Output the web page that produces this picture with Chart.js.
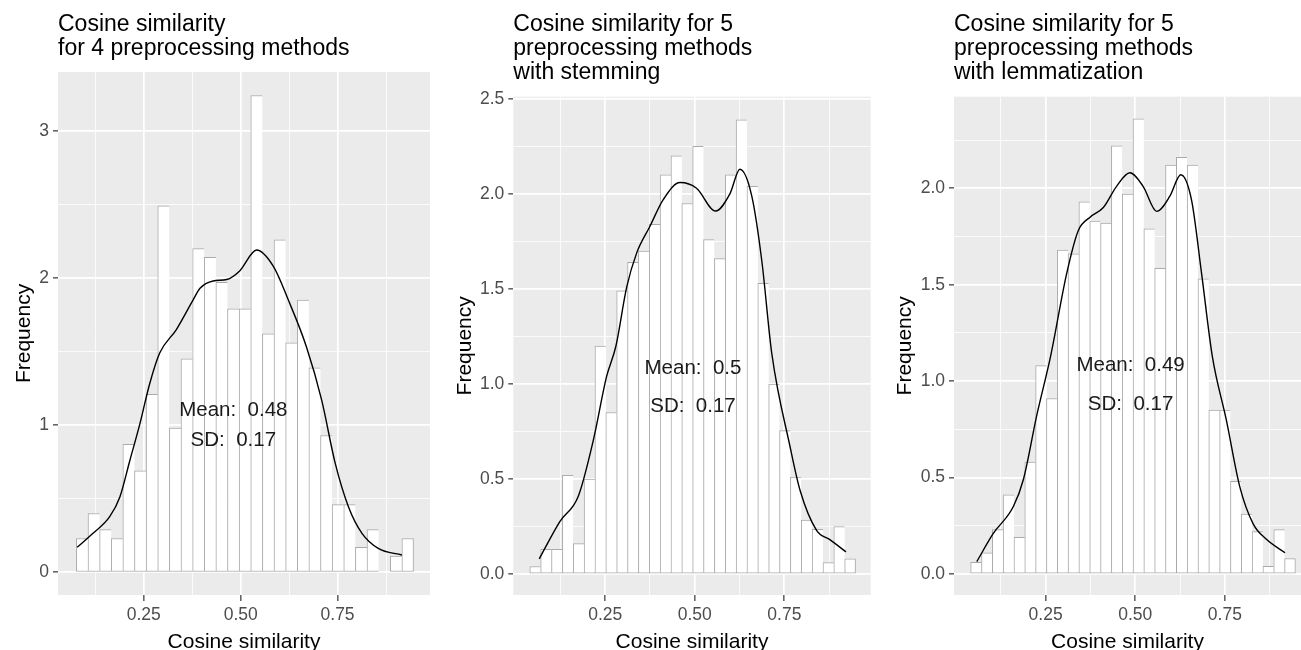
<!DOCTYPE html>
<html>
<head>
<meta charset="utf-8">
<script src="https://cdn.jsdelivr.net/npm/chart.js@4.4.1/dist/chart.umd.min.js"></script>
<style>
  html, body { margin: 0; padding: 0; background: #ffffff; }
  #wrap { position: relative; width: 1301px; height: 650px; overflow: hidden; }
  canvas { position: absolute; top: 0; }
</style>
</head>
<body>
<div id="wrap">
  <canvas id="c1" width="440" height="650" style="left:0px"></canvas>
  <canvas id="c2" width="440" height="650" style="left:440px"></canvas>
  <canvas id="c3" width="421" height="650" style="left:880px"></canvas>
</div>
<script>
// ---- data ----

// histogram bins: start of first bin, bin width, bar heights (density)
const binStart1 = 0.076;
const binWidth1 = 0.0300;
const hist1 = [0.23, 0.40, 0.29, 0.23, 0.87, 0.69, 1.21, 2.49, 0.98, 1.45, 2.20, 2.14, 1.97, 1.79, 1.79,
  3.24, 1.62, 2.26, 1.56, 1.85, 1.39, 0.93, 0.46, 0.46, 0.17, 0.29, 0, 0.11, 0.23];

const binStart2 = 0.0397;
const binWidth2 = 0.0303;
const hist2 = [0.04, 0.13, 0.13, 0.52, 0.16, 0.50, 1.20, 0.85, 1.49, 1.64, 1.70, 1.84, 2.10, 2.20, 1.95,
  2.25, 1.76, 1.66, 2.10, 2.39, 2.04, 1.53, 1.00, 0.755, 0.51, 0.284, 0.235, 0.06, 0.25, 0.08];

const binStart3 = 0.0409;
const binWidth3 = 0.0302;
const hist3 = [0.06, 0.11, 0.23, 0.41, 0.19, 0.58, 1.08, 0.91, 1.68, 1.66, 1.93, 1.83, 1.82, 2.22, 1.97,
  2.36, 1.79, 1.585, 2.12, 2.16, 2.12, 1.53, 0.85, 0.85, 0.48, 0.31, 0.22, 0.04, 0.23, 0.08];

// density curves
const densX1 = [0.078, 0.119, 0.162, 0.188, 0.214, 0.240, 0.265, 0.291, 0.334, 0.377, 0.395, 0.429, 0.464, 0.498,
  0.541, 0.584, 0.623, 0.670, 0.709, 0.744, 0.778, 0.813, 0.855, 0.916];
const densY1 = [0.17, 0.265, 0.378, 0.51, 0.76, 1.01, 1.28, 1.49, 1.65, 1.85, 1.93, 1.98, 1.99, 2.05,
  2.19, 2.08, 1.85, 1.53, 1.17, 0.74, 0.446, 0.265, 0.163, 0.118];

const densX2 = [0.066, 0.123, 0.175, 0.217, 0.254, 0.280, 0.310, 0.338, 0.375, 0.412, 0.459, 0.505, 0.558,
  0.598, 0.626, 0.659, 0.687, 0.715, 0.766, 0.794, 0.840, 0.878, 0.922];
const densY2 = [0.08, 0.275, 0.41, 0.705, 1.04, 1.20, 1.51, 1.69, 1.83, 1.97, 2.06, 2.03, 1.91,
  2.00, 2.13, 1.99, 1.65, 1.16, 0.67, 0.44, 0.23, 0.18, 0.117];

const densX3 = [0.058, 0.104, 0.160, 0.188, 0.225, 0.264, 0.309, 0.341, 0.374, 0.411, 0.448, 0.485, 0.522,
  0.560, 0.597, 0.627, 0.657, 0.685, 0.715, 0.754, 0.792, 0.829, 0.866, 0.918];
const densY3 = [0.064, 0.21, 0.35, 0.49, 0.82, 1.13, 1.56, 1.78, 1.85, 1.90, 2.01, 2.08, 2.01,
  1.88, 1.96, 2.07, 1.94, 1.56, 1.13, 0.80, 0.45, 0.26, 0.18, 0.11];

// titles and annotations
const titles = [
  ["Cosine similarity", "for 4 preprocessing methods"],
  ["Cosine similarity for 5", "preprocessing methods", "with stemming"],
  ["Cosine similarity for 5", "preprocessing methods", "with lemmatization"]
];
const meanText = ["Mean:  0.48", "Mean:  0.5", "Mean:  0.49"];
const sdText = ["SD:  0.17", "SD:  0.17", "SD:  0.17"];
const meanX = [0.481, 0.495, 0.487];
const meanY = [1.1, 1.08, 1.08];
const sdY = [0.9, 0.88, 0.88];

// axis ticks
const xMajor = [0.25, 0.5, 0.75];
const xMajorLabels = ["0.25", "0.50", "0.75"];
const xMinor = [0.125, 0.375, 0.625, 0.875];

const yMajor1 = [0, 1, 2, 3];
const yMajorLabels1 = ["0", "1", "2", "3"];
const yMinor1 = [0.5, 1.5, 2.5];
const yMajor2 = [0, 0.5, 1, 1.5, 2, 2.5];
const yMajorLabels2 = ["0.0", "0.5", "1.0", "1.5", "2.0", "2.5"];
const yMinor2 = [0.25, 0.75, 1.25, 1.75, 2.25];
const yMajor3 = [0, 0.5, 1, 1.5, 2];
const yMajorLabels3 = ["0.0", "0.5", "1.0", "1.5", "2.0"];
const yMinor3 = [0.25, 0.75, 1.25, 1.75, 2.25];

// ---- chart helpers ----

const FONT = "'Liberation Sans', Arial, Helvetica, sans-serif";
Chart.defaults.font.family = FONT;

const panelBg = {
  id: "panelBg",
  beforeDraw(chart) {
    const { ctx, chartArea } = chart;
    ctx.save();
    ctx.fillStyle = "#ebebeb";
    ctx.fillRect(chartArea.left, chartArea.top, chartArea.right - chartArea.left, chartArea.bottom - chartArea.top);
    ctx.restore();
  }
};

const statsLabel = {
  id: "statsLabel",
  afterDatasetsDraw(chart, args, opts) {
    const { ctx, scales } = chart;
    const x = scales.x.getPixelForValue(opts.x);
    ctx.save();
    ctx.fillStyle = "#1a1a1a";
    ctx.font = "20.5px " + FONT;
    ctx.textAlign = "center";
    ctx.textBaseline = "middle";
    ctx.fillText(opts.mean, x, scales.y.getPixelForValue(opts.meanY));
    ctx.fillText(opts.sd, x, scales.y.getPixelForValue(opts.sdY));
    ctx.restore();
  }
};

function isIn(list, v) {
  return list.some(m => Math.abs(m - v) < 1e-9);
}

function labelFor(major, labels, v) {
  const i = major.findIndex(m => Math.abs(m - v) < 1e-9);
  return i >= 0 ? labels[i] : "";
}

function makePanel(p) {
  const barData = p.hist.map((h, i) => ({ x: p.binStart + (i + 0.5) * p.binWidth, y: h }));
  const lineData = p.densX.map((x, i) => ({ x, y: p.densY[i] }));
  const n = p.hist.length;

  return new Chart(document.getElementById(p.id).getContext("2d"), {
    type: "bar",
    data: {
      datasets: [
        {
          type: "line",
          data: lineData,
          borderColor: "#000000",
          borderWidth: 1.4,
          pointRadius: 0,
          fill: false,
          cubicInterpolationMode: "monotone",
          order: 0
        },
        {
          type: "bar",
          data: barData,
          backgroundColor: "#ffffff",
          borderColor: "#aaaaaa",
          borderWidth: ctx => ({ top: 1, left: 1, bottom: 1, right: ctx.dataIndex === n - 1 ? 1 : 0 }),
          borderSkipped: false,
          barPercentage: 1,
          categoryPercentage: 1,
          order: 1
        }
      ]
    },
    options: {
      responsive: false,
      animation: false,
      layout: { padding: { left: 0, right: p.rightPad, top: 0, bottom: 0 } },
      plugins: {
        legend: { display: false },
        tooltip: { enabled: false },
        title: {
          display: true,
          text: p.title,
          align: "start",
          fullSize: false,
          color: "#000000",
          font: { size: 23, weight: "normal", lineHeight: 1.06 },
          padding: { top: 12.2, bottom: p.titlePadBottom }
        },
        statsLabel: { x: p.meanX, mean: p.mean, sd: p.sd, meanY: p.meanY, sdY: p.sdY }
      },
      scales: {
        x: {
          type: "linear",
          min: p.xMin,
          max: p.xMax,
          bounds: "data",
          offset: false,
          afterBuildTicks: s => { s.ticks = xMinor.concat(xMajor).sort((a, b) => a - b).map(v => ({ value: v })); },
          afterFit: s => { s.height = 55; },
          ticks: {
            color: "#4d4d4d",
            font: { size: 17.5 },
            padding: 4,
            maxRotation: 0,
            autoSkip: false,
            callback: v => labelFor(xMajor, xMajorLabels, v)
          },
          grid: {
            offset: false,
            color: "#ffffff",
            lineWidth: ctx => isIn(xMajor, ctx.tick.value) ? 1.7 : 0.8,
            tickColor: ctx => isIn(xMajor, ctx.tick.value) ? "#333333" : "rgba(0,0,0,0)",
            tickWidth: 1.2,
            tickLength: 6
          },
          border: { display: false },
          title: {
            display: true,
            text: "Cosine similarity",
            color: "#000000",
            font: { size: 21, lineHeight: 1 },
            padding: { top: 0, bottom: -2.5 }
          }
        },
        y: {
          type: "linear",
          min: p.yMin,
          max: p.yMax,
          bounds: "data",
          afterBuildTicks: s => { s.ticks = p.yMinor.concat(p.yMajor).sort((a, b) => a - b).map(v => ({ value: v })); },
          afterFit: s => { s.width = p.yAxisWidth; },
          ticks: {
            color: "#4d4d4d",
            font: { size: 17.5 },
            padding: 4,
            autoSkip: false,
            callback: v => labelFor(p.yMajor, p.yLabels, v)
          },
          grid: {
            color: "#ffffff",
            lineWidth: ctx => isIn(p.yMajor, ctx.tick.value) ? 1.7 : 0.8,
            tickColor: ctx => isIn(p.yMajor, ctx.tick.value) ? "#333333" : "rgba(0,0,0,0)",
            tickWidth: 1.2,
            tickLength: 5
          },
          border: { display: false },
          title: {
            display: true,
            text: "Frequency",
            color: "#000000",
            font: { size: 21, lineHeight: 1 },
            padding: { top: p.yTitlePad, bottom: 0 }
          }
        }
      }
    },
    plugins: [panelBg, statsLabel]
  });
}

makePanel({
  id: "c1", title: titles[0], hist: hist1, binStart: binStart1, binWidth: binWidth1,
  densX: densX1, densY: densY1, meanX: meanX[0], mean: meanText[0], sd: sdText[0], meanY: meanY[0], sdY: sdY[0],
  xMin: 0.0286, xMax: 0.9885, yMin: -0.154, yMax: 3.40,
  yMajor: yMajor1, yLabels: yMajorLabels1, yMinor: yMinor1,
  yAxisWidth: 58, rightPad: 10, titlePadBottom: 11, yTitlePad: 13.5
});

makePanel({
  id: "c2", title: titles[1], hist: hist2, binStart: binStart2, binWidth: binWidth2,
  densX: densX2, densY: densY2, meanX: meanX[1], mean: meanText[1], sd: sdText[1], meanY: meanY[1], sdY: sdY[1],
  xMin: -0.0064, xMax: 0.991, yMin: -0.11, yMax: 2.512,
  yMajor: yMajor2, yLabels: yMajorLabels2, yMinor: yMinor2,
  yAxisWidth: 73.3, rightPad: 9.3, titlePadBottom: 11.3, yTitlePad: 14.5
});

makePanel({
  id: "c3", title: titles[2], hist: hist3, binStart: binStart3, binWidth: binWidth3,
  densX: densX3, densY: densY3, meanX: meanX[2], mean: meanText[2], sd: sdText[2], meanY: meanY[2], sdY: sdY[2],
  xMin: -0.0056, xMax: 0.9625, yMin: -0.109, yMax: 2.475,
  yMajor: yMajor3, yLabels: yMajorLabels3, yMinor: yMinor3,
  yAxisWidth: 74, rightPad: 0, titlePadBottom: 11.3, yTitlePad: 14.5
});
</script>
</body>
</html>
